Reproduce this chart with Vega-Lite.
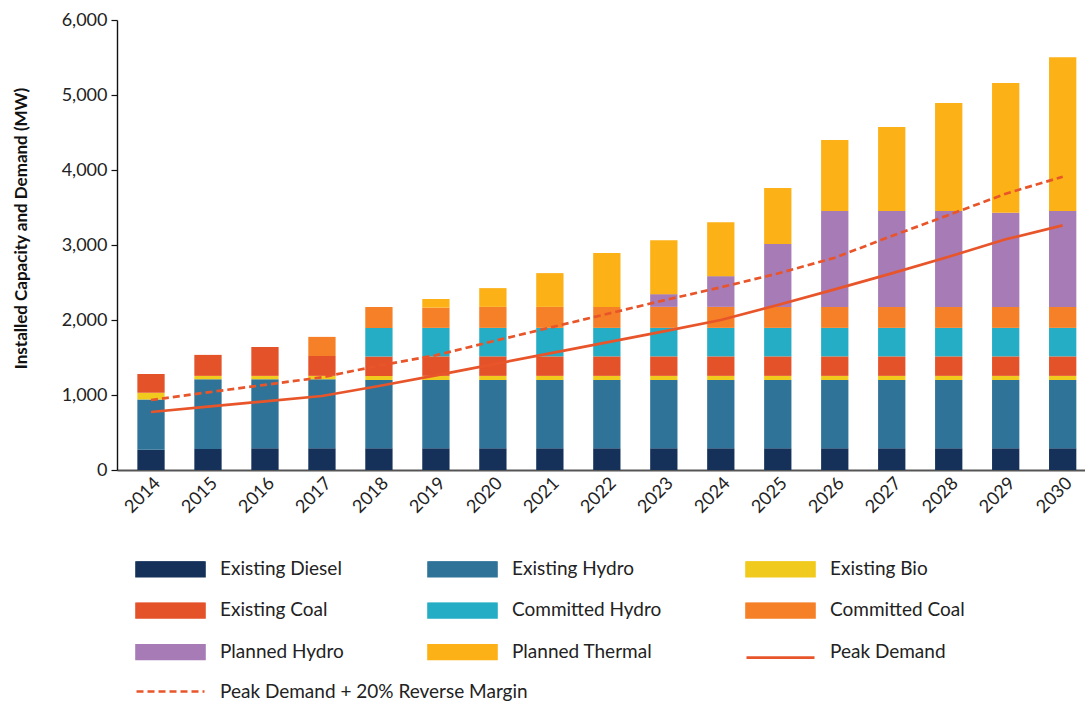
{
  "$schema": "https://vega.github.io/schema/vega-lite/v6.json",
  "width": 968,
  "height": 450,
  "autosize": "none",
  "padding": {"left": 117, "top": 20, "right": 0, "bottom": 232},
  "config": {
    "font": "Lato",
    "view": {"stroke": null},
    "axis": {"labelFont": "Lato", "titleFont": "Lato", "grid": false},
    "legend": {"labelFont": "Lato"}
  },
  "datasets": {
    "cap": [
      {"year": 2014, "source": "Existing Diesel", "mw": 270},
      {"year": 2014, "source": "Existing Hydro", "mw": 670},
      {"year": 2014, "source": "Existing Bio", "mw": 90},
      {"year": 2014, "source": "Existing Coal", "mw": 250},
      {"year": 2015, "source": "Existing Diesel", "mw": 280},
      {"year": 2015, "source": "Existing Hydro", "mw": 930},
      {"year": 2015, "source": "Existing Bio", "mw": 45},
      {"year": 2015, "source": "Existing Coal", "mw": 280},
      {"year": 2016, "source": "Existing Diesel", "mw": 290},
      {"year": 2016, "source": "Existing Hydro", "mw": 920},
      {"year": 2016, "source": "Existing Bio", "mw": 45},
      {"year": 2016, "source": "Existing Coal", "mw": 385},
      {"year": 2017, "source": "Existing Diesel", "mw": 290},
      {"year": 2017, "source": "Existing Hydro", "mw": 920},
      {"year": 2017, "source": "Existing Bio", "mw": 45},
      {"year": 2017, "source": "Existing Coal", "mw": 265},
      {"year": 2017, "source": "Committed Coal", "mw": 255},
      {"year": 2018, "source": "Existing Diesel", "mw": 290},
      {"year": 2018, "source": "Existing Hydro", "mw": 910},
      {"year": 2018, "source": "Existing Bio", "mw": 55},
      {"year": 2018, "source": "Existing Coal", "mw": 260},
      {"year": 2018, "source": "Committed Hydro", "mw": 380},
      {"year": 2018, "source": "Committed Coal", "mw": 280},
      {"year": 2019, "source": "Existing Diesel", "mw": 290},
      {"year": 2019, "source": "Existing Hydro", "mw": 910},
      {"year": 2019, "source": "Existing Bio", "mw": 55},
      {"year": 2019, "source": "Existing Coal", "mw": 260},
      {"year": 2019, "source": "Committed Hydro", "mw": 380},
      {"year": 2019, "source": "Committed Coal", "mw": 270},
      {"year": 2019, "source": "Planned Thermal", "mw": 115},
      {"year": 2020, "source": "Existing Diesel", "mw": 290},
      {"year": 2020, "source": "Existing Hydro", "mw": 910},
      {"year": 2020, "source": "Existing Bio", "mw": 55},
      {"year": 2020, "source": "Existing Coal", "mw": 260},
      {"year": 2020, "source": "Committed Hydro", "mw": 380},
      {"year": 2020, "source": "Committed Coal", "mw": 280},
      {"year": 2020, "source": "Planned Thermal", "mw": 250},
      {"year": 2021, "source": "Existing Diesel", "mw": 290},
      {"year": 2021, "source": "Existing Hydro", "mw": 910},
      {"year": 2021, "source": "Existing Bio", "mw": 55},
      {"year": 2021, "source": "Existing Coal", "mw": 260},
      {"year": 2021, "source": "Committed Hydro", "mw": 380},
      {"year": 2021, "source": "Committed Coal", "mw": 280},
      {"year": 2021, "source": "Planned Thermal", "mw": 450},
      {"year": 2022, "source": "Existing Diesel", "mw": 290},
      {"year": 2022, "source": "Existing Hydro", "mw": 910},
      {"year": 2022, "source": "Existing Bio", "mw": 55},
      {"year": 2022, "source": "Existing Coal", "mw": 260},
      {"year": 2022, "source": "Committed Hydro", "mw": 380},
      {"year": 2022, "source": "Committed Coal", "mw": 280},
      {"year": 2022, "source": "Planned Thermal", "mw": 720},
      {"year": 2023, "source": "Existing Diesel", "mw": 290},
      {"year": 2023, "source": "Existing Hydro", "mw": 910},
      {"year": 2023, "source": "Existing Bio", "mw": 55},
      {"year": 2023, "source": "Existing Coal", "mw": 260},
      {"year": 2023, "source": "Committed Hydro", "mw": 380},
      {"year": 2023, "source": "Committed Coal", "mw": 280},
      {"year": 2023, "source": "Planned Hydro", "mw": 170},
      {"year": 2023, "source": "Planned Thermal", "mw": 720},
      {"year": 2024, "source": "Existing Diesel", "mw": 290},
      {"year": 2024, "source": "Existing Hydro", "mw": 910},
      {"year": 2024, "source": "Existing Bio", "mw": 55},
      {"year": 2024, "source": "Existing Coal", "mw": 260},
      {"year": 2024, "source": "Committed Hydro", "mw": 380},
      {"year": 2024, "source": "Committed Coal", "mw": 280},
      {"year": 2024, "source": "Planned Hydro", "mw": 410},
      {"year": 2024, "source": "Planned Thermal", "mw": 720},
      {"year": 2025, "source": "Existing Diesel", "mw": 290},
      {"year": 2025, "source": "Existing Hydro", "mw": 910},
      {"year": 2025, "source": "Existing Bio", "mw": 55},
      {"year": 2025, "source": "Existing Coal", "mw": 260},
      {"year": 2025, "source": "Committed Hydro", "mw": 380},
      {"year": 2025, "source": "Committed Coal", "mw": 280},
      {"year": 2025, "source": "Planned Hydro", "mw": 840},
      {"year": 2025, "source": "Planned Thermal", "mw": 745},
      {"year": 2026, "source": "Existing Diesel", "mw": 290},
      {"year": 2026, "source": "Existing Hydro", "mw": 910},
      {"year": 2026, "source": "Existing Bio", "mw": 55},
      {"year": 2026, "source": "Existing Coal", "mw": 260},
      {"year": 2026, "source": "Committed Hydro", "mw": 380},
      {"year": 2026, "source": "Committed Coal", "mw": 280},
      {"year": 2026, "source": "Planned Hydro", "mw": 1280},
      {"year": 2026, "source": "Planned Thermal", "mw": 945},
      {"year": 2027, "source": "Existing Diesel", "mw": 290},
      {"year": 2027, "source": "Existing Hydro", "mw": 910},
      {"year": 2027, "source": "Existing Bio", "mw": 55},
      {"year": 2027, "source": "Existing Coal", "mw": 260},
      {"year": 2027, "source": "Committed Hydro", "mw": 380},
      {"year": 2027, "source": "Committed Coal", "mw": 280},
      {"year": 2027, "source": "Planned Hydro", "mw": 1280},
      {"year": 2027, "source": "Planned Thermal", "mw": 1120},
      {"year": 2028, "source": "Existing Diesel", "mw": 290},
      {"year": 2028, "source": "Existing Hydro", "mw": 910},
      {"year": 2028, "source": "Existing Bio", "mw": 55},
      {"year": 2028, "source": "Existing Coal", "mw": 260},
      {"year": 2028, "source": "Committed Hydro", "mw": 380},
      {"year": 2028, "source": "Committed Coal", "mw": 280},
      {"year": 2028, "source": "Planned Hydro", "mw": 1280},
      {"year": 2028, "source": "Planned Thermal", "mw": 1440},
      {"year": 2029, "source": "Existing Diesel", "mw": 290},
      {"year": 2029, "source": "Existing Hydro", "mw": 910},
      {"year": 2029, "source": "Existing Bio", "mw": 55},
      {"year": 2029, "source": "Existing Coal", "mw": 260},
      {"year": 2029, "source": "Committed Hydro", "mw": 380},
      {"year": 2029, "source": "Committed Coal", "mw": 280},
      {"year": 2029, "source": "Planned Hydro", "mw": 1255},
      {"year": 2029, "source": "Planned Thermal", "mw": 1730},
      {"year": 2030, "source": "Existing Diesel", "mw": 290},
      {"year": 2030, "source": "Existing Hydro", "mw": 910},
      {"year": 2030, "source": "Existing Bio", "mw": 55},
      {"year": 2030, "source": "Existing Coal", "mw": 260},
      {"year": 2030, "source": "Committed Hydro", "mw": 380},
      {"year": 2030, "source": "Committed Coal", "mw": 280},
      {"year": 2030, "source": "Planned Hydro", "mw": 1280},
      {"year": 2030, "source": "Planned Thermal", "mw": 2050}
    ],
    "peak": [
      {"year": 2014, "series": "Peak Demand", "mw": 773},
      {"year": 2015, "series": "Peak Demand", "mw": 846},
      {"year": 2016, "series": "Peak Demand", "mw": 916},
      {"year": 2017, "series": "Peak Demand", "mw": 987},
      {"year": 2018, "series": "Peak Demand", "mw": 1120},
      {"year": 2019, "series": "Peak Demand", "mw": 1262},
      {"year": 2020, "series": "Peak Demand", "mw": 1409},
      {"year": 2021, "series": "Peak Demand", "mw": 1556},
      {"year": 2022, "series": "Peak Demand", "mw": 1702},
      {"year": 2023, "series": "Peak Demand", "mw": 1849},
      {"year": 2024, "series": "Peak Demand", "mw": 2000},
      {"year": 2025, "series": "Peak Demand", "mw": 2200},
      {"year": 2026, "series": "Peak Demand", "mw": 2409},
      {"year": 2027, "series": "Peak Demand", "mw": 2622},
      {"year": 2028, "series": "Peak Demand", "mw": 2844},
      {"year": 2029, "series": "Peak Demand", "mw": 3076},
      {"year": 2030, "series": "Peak Demand", "mw": 3262}
    ],
    "margin": [
      {"year": 2014, "series": "Peak Demand + 20% Reverse Margin", "mw": 933},
      {"year": 2015, "series": "Peak Demand + 20% Reverse Margin", "mw": 1036},
      {"year": 2016, "series": "Peak Demand + 20% Reverse Margin", "mw": 1135},
      {"year": 2017, "series": "Peak Demand + 20% Reverse Margin", "mw": 1236},
      {"year": 2018, "series": "Peak Demand + 20% Reverse Margin", "mw": 1391},
      {"year": 2019, "series": "Peak Demand + 20% Reverse Margin", "mw": 1530},
      {"year": 2020, "series": "Peak Demand + 20% Reverse Margin", "mw": 1716},
      {"year": 2021, "series": "Peak Demand + 20% Reverse Margin", "mw": 1898},
      {"year": 2022, "series": "Peak Demand + 20% Reverse Margin", "mw": 2080},
      {"year": 2023, "series": "Peak Demand + 20% Reverse Margin", "mw": 2262},
      {"year": 2024, "series": "Peak Demand + 20% Reverse Margin", "mw": 2436},
      {"year": 2025, "series": "Peak Demand + 20% Reverse Margin", "mw": 2620},
      {"year": 2026, "series": "Peak Demand + 20% Reverse Margin", "mw": 2830},
      {"year": 2027, "series": "Peak Demand + 20% Reverse Margin", "mw": 3120},
      {"year": 2028, "series": "Peak Demand + 20% Reverse Margin", "mw": 3400},
      {"year": 2029, "series": "Peak Demand + 20% Reverse Margin", "mw": 3684},
      {"year": 2030, "series": "Peak Demand + 20% Reverse Margin", "mw": 3910}
    ]
  },
  "encoding": {
    "x": {
      "field": "year",
      "type": "quantitative",
      "scale": {"domain": [2013.491, 2030.304], "nice": false, "zero": false},
      "axis": {
        "title": null,
        "values": [2014, 2015, 2016, 2017, 2018, 2019, 2020, 2021, 2022, 2023, 2024, 2025, 2026, 2027, 2028, 2029, 2030],
        "format": "d",
        "labelAngle": -45,
        "ticks": false,
        "domainColor": "#555555",
        "domainWidth": 1.8,
        "labelFontSize": 18,
        "labelColor": "#222222",
        "labelPadding": 4,
        "labelFlush": false,
        "labelOverlap": false
      }
    },
    "y": {
      "field": "mw",
      "type": "quantitative",
      "scale": {"domain": [0, 6000], "nice": false},
      "axis": {
        "title": "Installed Capacity and Demand (MW)",
        "values": [0, 1000, 2000, 3000, 4000, 5000, 6000],
        "format": ",d",
        "tickSize": 6,
        "tickColor": "#111111",
        "tickWidth": 1.2,
        "domainColor": "#111111",
        "domainWidth": 1.4,
        "labelFontSize": 18,
        "labelColor": "#222222",
        "labelPadding": 4,
        "titleFontSize": 17,
        "titleFontWeight": "bold",
        "titleColor": "#111111",
        "titleAngle": -90,
        "titleX": -87,
        "titleY": 208,
        "titleAlign": "center",
        "titleBaseline": "bottom"
      }
    }
  },
  "layer": [
    {
      "data": {"name": "cap"},
      "transform": [
        {"calculate": "indexof(['Existing Diesel', 'Existing Hydro', 'Existing Bio', 'Existing Coal', 'Committed Hydro', 'Committed Coal', 'Planned Hydro', 'Planned Thermal'], datum.source)", "as": "stackOrder"}
      ],
      "mark": {"type": "bar", "width": 27.3, "orient": "vertical"},
      "encoding": {
        "y": {"field": "mw", "type": "quantitative", "stack": "zero"},
        "order": {"field": "stackOrder", "type": "quantitative", "sort": "ascending"},
        "color": {
          "field": "source",
          "type": "nominal",
          "sort": ["Existing Diesel", "Existing Hydro", "Existing Bio", "Existing Coal", "Committed Hydro", "Committed Coal", "Planned Hydro", "Planned Thermal", "Peak Demand"],
          "scale": {
            "domain": ["Existing Diesel", "Existing Hydro", "Existing Bio", "Existing Coal", "Committed Hydro", "Committed Coal", "Planned Hydro", "Planned Thermal", "Peak Demand"],
            "range": ["#15315A", "#2F7398", "#F0CA1C", "#E4522A", "#25ADC5", "#F58027", "#A67BB6", "#FCB116", "#E8552A"]
          },
          "legend": {
            "orient": "none",
            "direction": "horizontal",
            "legendX": 18,
            "legendY": 541,
            "columns": 3,
            "columnPadding": 83,
            "rowPadding": 21.5,
            "padding": 0,
            "title": null,
            "symbolType": "M-1,-0.22H1V0.22H-1Z",
            "symbolSize": 4624,
            "clipHeight": 15,
            "labelOffset": 14,
            "labelFontSize": 19,
            "labelColor": "#222222",
            "labelLimit": 500,
            "symbolOpacity": 1,
            "encode": {
              "symbols": {
                "update": {
                  "shape": {"signal": "datum.label === 'Peak Demand' ? 'M-1,0.18L1,0.18' : 'M-1,-0.22H1V0.22H-1Z'"},
                  "fill": {"signal": "datum.label === 'Peak Demand' ? 'transparent' : scale('color', datum.value)"},
                  "stroke": {"signal": "datum.label === 'Peak Demand' ? '#E8552A' : 'transparent'"},
                  "strokeWidth": {"value": 2.6},
                  "opacity": {"value": 1}
                }
              }
            }
          }
        }
      }
    },
    {
      "data": {"name": "peak"},
      "mark": {"type": "line", "strokeWidth": 2.7},
      "encoding": {
        "color": {"field": "series", "type": "nominal"}
      }
    },
    {
      "data": {"name": "margin"},
      "mark": {"type": "line", "strokeWidth": 2.7, "color": "#E8552A"},
      "encoding": {
        "strokeDash": {
          "field": "series",
          "type": "nominal",
          "scale": {"domain": ["Peak Demand + 20% Reverse Margin"], "range": [[7, 4]]},
          "legend": {
            "orient": "none",
            "legendX": 18,
            "legendY": 664,
            "padding": 0,
            "title": null,
            "symbolType": "M-1,0L1,0",
            "symbolSize": 4624,
            "clipHeight": 15,
            "symbolStrokeColor": "#E8552A",
            "symbolStrokeWidth": 2.6,
            "symbolFillColor": "transparent",
            "labelOffset": 14,
            "labelFontSize": 19,
            "labelColor": "#222222",
            "labelLimit": 500
          }
        }
      }
    }
  ]
}
